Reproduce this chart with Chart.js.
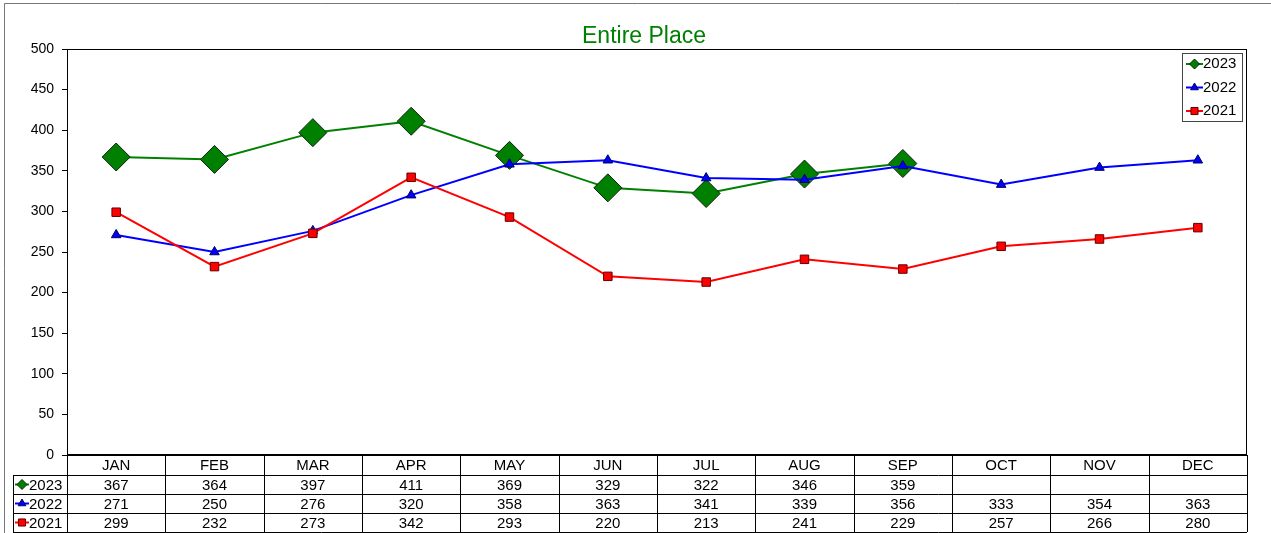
<!DOCTYPE html>
<html>
<head>
<meta charset="utf-8">
<script src="https://cdn.jsdelivr.net/npm/chart.js@4/dist/chart.umd.min.js"></script>
<style>
  html, body { margin: 0; padding: 0; background: #fff; }
  canvas { display: block; }
</style>
</head>
<body>
<canvas id="myChart" width="1271" height="533"></canvas>
<script>
var months = ["JAN", "FEB", "MAR", "APR", "MAY", "JUN", "JUL", "AUG", "SEP", "OCT", "NOV", "DEC"];
var seriesNames = ["2023", "2022", "2021"];
var values2023 = [367, 364, 397, 411, 369, 329, 322, 346, 359, null, null, null];
var values2022 = [271, 250, 276, 320, 358, 363, 341, 339, 356, 333, 354, 363];
var values2021 = [299, 232, 273, 342, 293, 220, 213, 241, 229, 257, 266, 280];
var yMin = 0, yMax = 500, yStep = 50;
var chartTitle = "Entire Place";

var FONT = "'Liberation Sans', Arial, sans-serif";

// draw one marker the way Chart.js shapes them
function drawMarker(ctx, style, x, y, r, fill, stroke) {
  ctx.save();
  ctx.beginPath();
  if (style === "rectRot") {
    ctx.moveTo(x - r, y); ctx.lineTo(x, y - r); ctx.lineTo(x + r, y); ctx.lineTo(x, y + r);
  } else if (style === "triangle") {
    ctx.moveTo(x, y - r); ctx.lineTo(x + 0.866 * r, y + 0.5 * r); ctx.lineTo(x - 0.866 * r, y + 0.5 * r);
  } else {
    var s = r * Math.SQRT1_2;
    ctx.rect(x - s, y - s, 2 * s, 2 * s);
  }
  ctx.closePath();
  ctx.fillStyle = fill; ctx.fill();
  ctx.lineWidth = 1; ctx.strokeStyle = stroke; ctx.stroke();
  ctx.restore();
}

function drawKey(ctx, ds, x1, x2, y, r) {
  ctx.save();
  ctx.strokeStyle = ds.borderColor; ctx.lineWidth = 2;
  ctx.beginPath(); ctx.moveTo(x1, y); ctx.lineTo(x2, y); ctx.stroke();
  ctx.restore();
  drawMarker(ctx, ds.pointStyle, (x1 + x2) / 2, y, r, ds.pointBackgroundColor, ds.pointBorderColor);
}

var extras = {
  id: "extras",
  beforeDraw: function (chart) {
    var ctx = chart.ctx;
    ctx.save();
    ctx.fillStyle = "#fff";
    ctx.fillRect(0, 0, chart.width, chart.height);
    ctx.restore();
  },
  afterDraw: function (chart) {
    var ctx = chart.ctx, a = chart.chartArea, xs = chart.scales.x;
    var colW = (a.right - a.left) / months.length;
    ctx.save();

    // outer frame
    ctx.strokeStyle = "#777"; ctx.lineWidth = 1;
    ctx.beginPath();
    ctx.moveTo(4.5, chart.height); ctx.lineTo(4.5, 3.5); ctx.lineTo(chart.width, 3.5);
    ctx.stroke();

    // title
    ctx.fillStyle = "#008000";
    ctx.font = "23px " + FONT;
    ctx.textAlign = "center"; ctx.textBaseline = "middle";
    ctx.fillText(chartTitle, 644, 37);

    // plot frame
    ctx.strokeStyle = "#000"; ctx.lineWidth = 1;
    ctx.strokeRect(a.left + 0.5, a.top + 0.5, a.right - a.left - 1, a.bottom - a.top);
    ctx.lineWidth = 2;
    ctx.beginPath(); ctx.moveTo(a.left, a.bottom); ctx.lineTo(a.right, a.bottom); ctx.stroke();

    // legend box
    var ds = chart.data.datasets;
    ctx.lineWidth = 1; ctx.strokeStyle = "#444";
    ctx.strokeRect(1182.5, 53.5, 60, 68);
    ctx.font = "15px " + FONT;
    ctx.fillStyle = "#000"; ctx.textAlign = "left"; ctx.textBaseline = "middle";
    var legendSizes = [5, 4.5, 5];
    ds.forEach(function (d, i) {
      var ly = 64 + i * 23.5;
      drawKey(ctx, d, 1186, 1203, ly, legendSizes[i]);
      ctx.fillText(d.label, 1203, ly);
    });

    // data table
    var tTop = a.bottom, rowH = 19, hdrH = 20, tLeft = 13;
    var rowsTop = tTop + hdrH;
    var tBottom = rowsTop + rowH * ds.length;
    ctx.strokeStyle = "#000"; ctx.lineWidth = 1;
    ctx.beginPath();
    for (var k = 0; k <= months.length; k++) {
      var bx = Math.round(a.left + k * colW) + 0.5;
      ctx.moveTo(bx, tTop); ctx.lineTo(bx, tBottom);
    }
    ctx.moveTo(tLeft + 0.5, rowsTop); ctx.lineTo(tLeft + 0.5, tBottom);
    for (var r = 0; r <= ds.length; r++) {
      var hy = Math.round(rowsTop + r * rowH) + 0.5;
      ctx.moveTo(tLeft, hy); ctx.lineTo(a.right, hy);
    }
    ctx.stroke();

    ctx.font = "15px " + FONT;
    ctx.fillStyle = "#000"; ctx.textBaseline = "middle"; ctx.textAlign = "center";
    months.forEach(function (m, i) {
      ctx.fillText(m, xs.getPixelForValue(i), tTop + hdrH / 2 + 1);
    });
    ds.forEach(function (d, r) {
      var cy = rowsTop + r * rowH + rowH / 2 + 1;
      drawKey(ctx, d, 15, 29, cy - 1, legendSizes[r]);
      ctx.textAlign = "left";
      ctx.fillText(d.label, 29, cy);
      ctx.textAlign = "center";
      d.data.forEach(function (v, i) {
        if (v !== null) ctx.fillText(String(v), xs.getPixelForValue(i), cy);
      });
    });
    ctx.restore();
  }
};

new Chart("myChart", {
  type: "line",
  data: {
    labels: months,
    datasets: [{
      label: seriesNames[0],
      data: values2023,
      borderColor: "#008000",
      borderWidth: 2,
      pointStyle: "rectRot",
      pointRadius: 14,
      pointBackgroundColor: "#008000",
      pointBorderColor: "#102010",
      pointBorderWidth: 1,
      order: 2
    }, {
      label: seriesNames[1],
      data: values2022,
      borderColor: "#0000FF",
      borderWidth: 2,
      pointStyle: "triangle",
      pointRadius: 5.5,
      pointBackgroundColor: "#0000FF",
      pointBorderColor: "#000060",
      pointBorderWidth: 1,
      order: 1
    }, {
      label: seriesNames[2],
      data: values2021,
      borderColor: "#FF0000",
      borderWidth: 2,
      pointStyle: "rect",
      pointRadius: 6,
      pointBackgroundColor: "#FF0000",
      pointBorderColor: "#600000",
      pointBorderWidth: 1,
      order: 0
    }]
  },
  options: {
    responsive: false,
    animation: false,
    devicePixelRatio: 1,
    spanGaps: false,
    layout: { padding: { left: 0, right: 24, top: 49, bottom: 78 } },
    plugins: {
      legend: { display: false },
      title: { display: false },
      tooltip: { enabled: false }
    },
    scales: {
      x: {
        type: "category",
        offset: true,
        display: false
      },
      y: {
        min: yMin,
        max: yMax,
        ticks: { stepSize: yStep, color: "#000", padding: 8, font: { size: 14, family: FONT } },
        grid: { drawOnChartArea: false, drawTicks: true, tickLength: 5, color: "#000" },
        border: { display: true, color: "#000", width: 1 },
        afterFit: function (scale) { scale.width = 67; }
      }
    }
  },
  plugins: [extras]
});
</script>
</body>
</html>
